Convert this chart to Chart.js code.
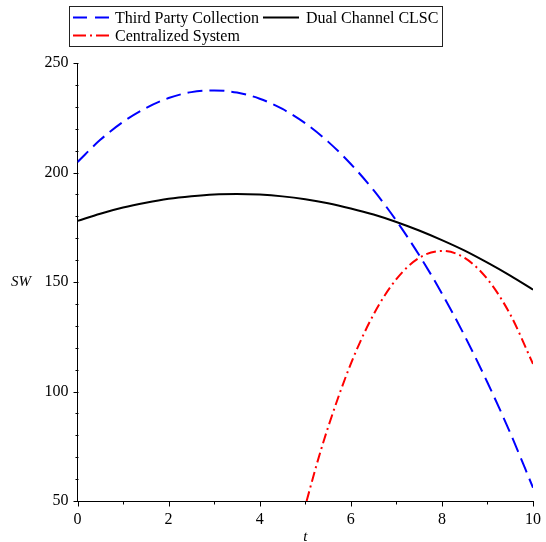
<!DOCTYPE html>
<html>
<head>
<meta charset="utf-8">
<script src="https://cdn.jsdelivr.net/npm/chart.js@4/dist/chart.umd.min.js"></script>
<style>
  html, body { margin: 0; padding: 0; background: #fff; }
  #wrap { position: relative; width: 546px; height: 542px; }
</style>
</head>
<body>
<div id="wrap"><canvas id="c" width="546" height="542"></canvas></div>
<script>
// ---- Data ----
const tValues = [0, 0.5, 1, 1.5, 2, 2.5, 3, 3.5, 4, 4.5, 5, 5.5, 6, 6.5, 7, 7.5, 8, 8.5, 9, 9.5, 10];
const thirdPartyCollection = [204.8, 214.9, 223.1, 229.4, 234.0, 236.7, 237.5, 236.5, 233.7, 229.0, 222.5, 214.1, 203.9, 191.9, 178.0, 162.3, 144.8, 125.4, 104.1, 81.1, 56.1];
const dualChannelCLSC = [177.9, 181.2, 184.0, 186.2, 188.0, 189.2, 190.0, 190.2, 189.9, 189.1, 187.8, 186.0, 183.6, 180.8, 177.4, 173.5, 169.1, 164.3, 158.8, 152.9, 146.5];
const centralizedT = [5.03, 5.25, 5.5, 6, 6.5, 7, 7.5, 8, 8.5, 9, 9.5, 10];
const centralizedSystem = [50, 66.6, 83.6, 112.6, 135.2, 151.3, 161.0, 164.2, 161.0, 151.3, 135.2, 112.6];
const seriesLabels = ['Third Party Collection', 'Dual Channel CLSC', 'Centralized System'];
const xTickLabels = [0, 2, 4, 6, 8, 10];
const yTickLabels = [50, 100, 150, 200, 250];
const xTitle = 't';
const yTitle = 'SW';

const FONT = "'Liberation Serif', 'Times New Roman', serif";

function pts(xs, ys) { return xs.map((x, i) => ({ x: x, y: ys[i] })); }

// Minor/major ticks, axis titles and boxed legend
const decorPlugin = {
  id: 'decor',
  afterDraw(chart) {
    const ctx = chart.ctx;
    const xs = chart.scales.x, ys = chart.scales.y;
    ctx.save();
    ctx.strokeStyle = '#000';
    ctx.lineWidth = 1;
    // y ticks
    const yAxisX = Math.round(ys.right) + 0.5;
    for (let v = ys.min; v <= ys.max + 1e-9; v += 10) {
      const py = Math.round(ys.getPixelForValue(v)) + 0.5;
      const len = yTickLabels.includes(v) ? 5 : 3;
      ctx.beginPath(); ctx.moveTo(yAxisX - len, py); ctx.lineTo(yAxisX, py); ctx.stroke();
    }
    // x ticks
    const xAxisY = Math.round(xs.top) + 0.5;
    for (let v = xs.min; v <= xs.max + 1e-9; v += 1) {
      const px = Math.round(xs.getPixelForValue(v)) + 0.5;
      const len = xTickLabels.includes(v) ? 5 : 3;
      ctx.beginPath(); ctx.moveTo(px, xAxisY); ctx.lineTo(px, xAxisY + len); ctx.stroke();
    }
    // axis titles
    ctx.fillStyle = '#000';
    ctx.font = 'italic 15px ' + FONT;
    ctx.textAlign = 'center';
    ctx.textBaseline = 'middle';
    ctx.fillText(yTitle, 21, ys.getPixelForValue(150));
    ctx.fillText(xTitle, (xs.left + xs.right) / 2, 537);

    // legend box
    ctx.strokeStyle = '#222';
    ctx.strokeRect(69.5, 6.5, 373, 40);
    const ds = chart.data.datasets;
    const items = [
      { d: ds[0], lx: 73, tx: 115, y: 17.5 },
      { d: ds[1], lx: 263, tx: 306, y: 17.5 },
      { d: ds[2], lx: 73, tx: 115, y: 35.5 }
    ];
    ctx.font = '16px ' + FONT;
    ctx.textAlign = 'left';
    items.forEach(it => {
      ctx.save();
      ctx.strokeStyle = it.d.borderColor;
      ctx.lineWidth = it.d.borderWidth;
      ctx.setLineDash(it.d.legendDash || []);
      ctx.beginPath(); ctx.moveTo(it.lx, it.y); ctx.lineTo(it.lx + 36, it.y); ctx.stroke();
      ctx.restore();
      ctx.fillStyle = '#000';
      ctx.fillText(it.d.label, it.tx, it.y + 1);
    });
    ctx.restore();
  }
};

new Chart(document.getElementById('c'), {
  type: 'line',
  data: {
    datasets: [
      {
        label: seriesLabels[0],
        data: pts(tValues, thirdPartyCollection),
        borderColor: '#0000ff',
        borderWidth: 2,
        borderDash: [15, 7],
        legendDash: [14, 8],
        pointRadius: 0,
        cubicInterpolationMode: 'monotone',
        fill: false
      },
      {
        label: seriesLabels[1],
        data: pts(tValues, dualChannelCLSC),
        borderColor: '#000000',
        borderWidth: 2,
        pointRadius: 0,
        cubicInterpolationMode: 'monotone',
        fill: false
      },
      {
        label: seriesLabels[2],
        data: pts(centralizedT, centralizedSystem),
        borderColor: '#ff0000',
        borderWidth: 2,
        borderDash: [10, 4, 2, 4],
        legendDash: [13, 4, 2, 4],
        pointRadius: 0,
        cubicInterpolationMode: 'monotone',
        fill: false
      }
    ]
  },
  options: {
    responsive: false,
    animation: false,
    devicePixelRatio: 1,
    layout: { padding: { top: 63, right: 13, bottom: 0, left: 0 } },
    plugins: { legend: { display: false }, tooltip: { enabled: false } },
    scales: {
      x: {
        type: 'linear',
        min: 0, max: 10,
        afterFit(scale) { scale.height = 41; scale.paddingRight = 0; scale.paddingLeft = 0; },
        afterBuildTicks(scale) { scale.ticks = xTickLabels.map(v => ({ value: v })); },
        ticks: { color: '#000', font: { family: FONT, size: 16 }, padding: 9, maxRotation: 0 },
        grid: { display: true, drawOnChartArea: false, drawTicks: false },
        border: { display: true, color: '#000', width: 1 }
      },
      y: {
        min: 50, max: 250,
        afterFit(scale) { scale.width = 77.5; scale.paddingTop = 0; scale.paddingBottom = 0; },
        afterBuildTicks(scale) { scale.ticks = yTickLabels.map(v => ({ value: v })); },
        ticks: { color: '#000', font: { family: FONT, size: 16 }, padding: 9 },
        grid: { display: true, drawOnChartArea: false, drawTicks: false },
        border: { display: true, color: '#000', width: 1 }
      }
    }
  },
  plugins: [decorPlugin]
});
</script>
</body>
</html>
